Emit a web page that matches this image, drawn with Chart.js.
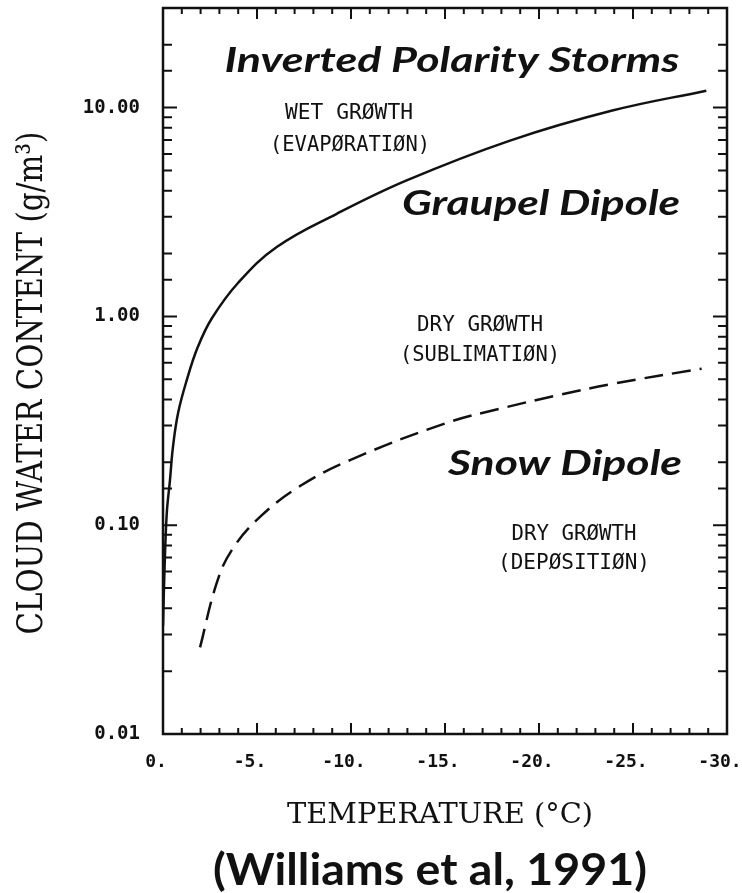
<!DOCTYPE html>
<html>
<head>
<meta charset="utf-8">
<script src="https://cdn.jsdelivr.net/npm/chart.js@4.4.1/dist/chart.umd.min.js"></script>
<style>
  html, body { margin: 0; padding: 0; background: #fff; }
  canvas { display: block; }
</style>
</head>
<body>
<canvas id="cwc-chart" width="742" height="893"></canvas>
<script>
// Charge reversal curves: cloud water content vs temperature (Williams et al, 1991)
const solidTemps = [0, -0.08, -0.2, -0.37, -0.53, -0.8, -1.26, -1.85, -2.6, -4.0, -6.05, -9.24, -12.96, -18.46, -23.9, -28.9];
const solidCwc   = [0.033, 0.061, 0.114, 0.164, 0.237, 0.344, 0.494, 0.713, 0.98, 1.45, 2.15, 3.10, 4.48, 6.95, 9.68, 12.05];

const dashedTemps = [-1.97, -2.85, -3.65, -5.16, -7.29, -9.95, -15.0, -18.28, -21.0, -23.94, -28.65];
const dashedCwc   = [0.026, 0.0526, 0.0758, 0.1096, 0.154, 0.205, 0.307, 0.368, 0.419, 0.476, 0.562];

const tempLabelTicks = [0, -5, -10, -15, -20, -25, -30];
const cwcLabelTicks = [0.01, 0.1, 1, 10];

const INK = '#111';

function isDecade(v) {
    return cwcLabelTicks.some(t => Math.abs(t - v) / t < 1e-6);
}

function toPoints(xs, ys) {
    return xs.map((x, i) => ({ x: x, y: ys[i] }));
}

// draw text squeezed/stretched to a target width
function fitText(ctx, text, font, x, y, width) {
    ctx.font = font;
    const w = ctx.measureText(text).width;
    ctx.save();
    ctx.translate(x, y);
    ctx.scale(width / w, 1);
    ctx.textAlign = 'center';
    ctx.textBaseline = 'alphabetic';
    ctx.fillText(text, 0, 0);
    ctx.restore();
}

// frame with inward ticks on all four sides
const frameTicks = {
    id: 'frameTicks',
    afterDatasetsDraw(chart) {
        const { ctx, chartArea: a, scales: { x, y } } = chart;
        ctx.save();
        ctx.strokeStyle = INK;
        ctx.lineWidth = 2;
        ctx.beginPath();
        x.ticks.forEach(tk => {
            const px = x.getPixelForValue(tk.value);
            const len = tempLabelTicks.includes(tk.value) ? 11 : 6;
            ctx.moveTo(px, a.bottom); ctx.lineTo(px, a.bottom - len);
            ctx.moveTo(px, a.top); ctx.lineTo(px, a.top + len);
        });
        y.ticks.forEach(tk => {
            const py = y.getPixelForValue(tk.value);
            const len = isDecade(tk.value) ? 14 : 9;
            ctx.moveTo(a.left, py); ctx.lineTo(a.left + len, py);
            ctx.moveTo(a.right, py); ctx.lineTo(a.right - len, py);
        });
        ctx.stroke();
        ctx.lineWidth = 2.5;
        ctx.strokeRect(a.left, a.top, a.right - a.left, a.bottom - a.top);
        ctx.restore();
    }
};

// axis titles, region labels and citation
const chartTexts = {
    id: 'chartTexts',
    afterDraw(chart) {
        const ctx = chart.ctx;
        ctx.save();
        ctx.fillStyle = INK;

        // y title (rotated)
        ctx.save();
        ctx.translate(42, 383);
        ctx.rotate(-Math.PI / 2);
        fitText(ctx, 'CLOUD WATER CONTENT (g/m³)', '36px "DejaVu Serif"', 0, 0, 503);
        ctx.restore();

        fitText(ctx, 'TEMPERATURE (°C)', '27px "DejaVu Serif"', 440, 823, 306);

        const mono = '22px "DejaVu Sans Mono"';
        fitText(ctx, 'WET GRØWTH', mono, 349, 119, 128);
        fitText(ctx, '(EVAPØRATIØN)', mono, 350, 151, 160);
        fitText(ctx, 'DRY GRØWTH', mono, 480, 331, 126);
        fitText(ctx, '(SUBLIMATIØN)', mono, 480, 361, 160);
        fitText(ctx, 'DRY GRØWTH', mono, 574, 540, 125);
        fitText(ctx, '(DEPØSITIØN)', mono, 574, 569, 152);

        const big = 'italic bold 34px Lato';
        fitText(ctx, 'Inverted Polarity Storms', big, 452, 72, 455);
        fitText(ctx, 'Graupel Dipole', big, 541, 215, 278);
        fitText(ctx, 'Snow Dipole', big, 565, 475, 234);

        fitText(ctx, '(Williams et al, 1991)', 'bold 44px Lato', 430, 885, 434);
        ctx.restore();
    }
};

const ctx = document.getElementById('cwc-chart').getContext('2d');

new Chart(ctx, {
    type: 'line',
    data: {
        datasets: [{
            label: 'Wet / dry growth boundary',
            data: toPoints(solidTemps, solidCwc),
            borderColor: INK,
            borderWidth: 2.5,
            pointRadius: 0,
            tension: 0.4,
            fill: false
        }, {
            label: 'Sublimation / deposition boundary',
            data: toPoints(dashedTemps, dashedCwc),
            borderColor: INK,
            borderWidth: 2.5,
            borderDash: [19, 9],
            pointRadius: 0,
            tension: 0.4,
            fill: false
        }]
    },
    options: {
        responsive: false,
        animation: false,
        devicePixelRatio: 1,
        layout: { padding: { top: 8, right: 15, left: 0, bottom: 0 } },
        plugins: {
            legend: { display: false },
            tooltip: { enabled: false }
        },
        scales: {
            x: {
                type: 'linear',
                min: -30,
                max: 0,
                reverse: true,
                grid: { display: false },
                border: { display: false },
                ticks: {
                    stepSize: 1,
                    autoSkip: false,
                    maxRotation: 0,
                    padding: 10,
                    labelOffset: -7,
                    color: INK,
                    font: { family: 'DejaVu Sans Mono', size: 18, weight: 'bold' },
                    callback: v => tempLabelTicks.includes(v) ? (v === 0 ? '0.' : v + '.') : ''
                },
                afterFit: scale => {
                    scale.height = 159;
                    scale.paddingLeft = 0;
                    scale.paddingRight = 0;
                }
            },
            y: {
                type: 'logarithmic',
                min: 0.01,
                max: 30,
                grid: { display: false },
                border: { display: false },
                ticks: {
                    autoSkip: false,
                    padding: 15,
                    color: INK,
                    font: { family: 'DejaVu Sans Mono', size: 19, weight: 'bold' },
                    callback: v => isDecade(v) ? Number(v).toFixed(2) : ''
                },
                afterFit: scale => {
                    scale.width = 163;
                    scale.paddingTop = 0;
                    scale.paddingBottom = 0;
                }
            }
        }
    },
    plugins: [frameTicks, chartTexts]
});
</script>
</body>
</html>
